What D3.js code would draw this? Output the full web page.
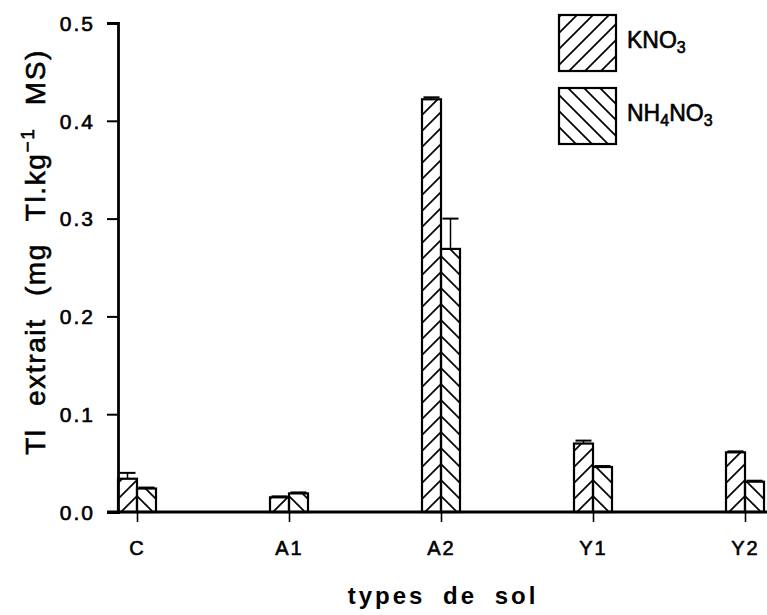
<!DOCTYPE html>
<html><head><meta charset="utf-8">
<script src="https://cdn.jsdelivr.net/npm/d3@7"></script>
<style>body{margin:0;background:#fff}svg{display:block}text{font-family:"Liberation Sans",Arial,sans-serif;fill:#000}</style>
</head><body>
<script>
const categories = ["C","A1","A2","Y1","Y2"];
const series = ["KNO3","NH4NO3"];
const kno3 = [0.034, 0.015, 0.422, 0.070, 0.061];
const nh4no3 = [0.024, 0.019, 0.269, 0.046, 0.031];
const kno3Err = [0.006, 0.001, 0.002, 0.003, 0.001];
const nh4no3Err = [0.001, 0.001, 0.031, 0.001, 0.001];
const yTicks = [0.0, 0.1, 0.2, 0.3, 0.4, 0.5];

const W = 767, H = 615;
const svg = d3.select("body").append("svg").attr("width", W).attr("height", H);
const defs = svg.append("defs");
function hatch(id, d) {
  const p = defs.append("pattern").attr("id", id).attr("patternUnits", "userSpaceOnUse")
    .attr("width", 16).attr("height", 16);
  p.append("path").attr("d", d).attr("stroke", "#000").attr("stroke-width", 1.7).attr("fill", "none");
}
hatch("fwd", "M-4,4 L4,-4 M0,16 L16,0 M12,20 L20,12");
hatch("bwd", "M-4,12 L4,20 M0,0 L16,16 M12,-4 L20,4");
const fills = {KNO3: "url(#fwd)", NH4NO3: "url(#bwd)"};

const x0 = 118, yBase = 512, yTop = 23;
const y = d3.scaleLinear().domain([0, 0.5]).range([yBase, yTop]);
const x = d3.scalePoint().domain(categories).range([137, 745]);
const xs = d3.scaleBand().domain(series).range([-19, 19]);

const data = categories.map((c, i) => ({
  cat: c,
  vals: [
    {s: "KNO3", v: kno3[i], e: kno3Err[i]},
    {s: "NH4NO3", v: nh4no3[i], e: nh4no3Err[i]}
  ]
}));

const g = svg.append("g");
const grp = g.selectAll("g.cat").data(data).join("g").attr("transform", d => `translate(${x(d.cat)},0)`);
grp.selectAll("rect").data(d => d.vals).join("rect")
  .attr("x", d => xs(d.s)).attr("width", xs.bandwidth())
  .attr("y", d => y(d.v)).attr("height", d => yBase - y(d.v))
  .attr("fill", d => fills[d.s]).attr("stroke", "#000").attr("stroke-width", 2.2);
// error bars
grp.selectAll("g.err").data(d => d.vals).join("g").each(function(d) {
  const cx = xs(d.s) + xs.bandwidth() / 2;
  const sel = d3.select(this);
  sel.append("line").attr("x1", cx).attr("x2", cx).attr("y1", y(d.v)).attr("y2", y(d.v + d.e))
    .attr("stroke", "#000").attr("stroke-width", 1.5);
  sel.append("line").attr("x1", cx - 8).attr("x2", cx + 8).attr("y1", y(d.v + d.e)).attr("y2", y(d.v + d.e))
    .attr("stroke", "#000").attr("stroke-width", 2);
});

const thick = sel => sel.style("stroke", "#000").style("stroke-width", "0.6px");

// Y axis
const yAxis = svg.append("g").attr("transform", `translate(${x0},0)`)
  .call(d3.axisLeft(y).tickValues(yTicks).tickFormat(d3.format(".1f")).tickSizeOuter(0).tickSize(11).tickPadding(12));
yAxis.select(".domain").attr("stroke-width", 2.8);
yAxis.selectAll(".tick line").attr("stroke-width", 2);
yAxis.selectAll("text").style("font-size", "21px").style("letter-spacing", "2px").attr("dy", "0.35em").call(thick);

// X axis
const xAxis = svg.append("g").attr("transform", `translate(0,${yBase})`)
  .call(d3.axisBottom(x).tickSize(10).tickSizeOuter(0).tickPadding(19));
xAxis.select(".domain").attr("d", `M${x0 - 11},0H${W + 20}`).attr("stroke-width", 2.8);
xAxis.selectAll(".tick line").attr("stroke-width", 1.6);
xAxis.selectAll("text").style("font-size", "20px").style("letter-spacing", "2px").call(thick);

// axis titles
const yt = svg.append("text").attr("transform", "translate(45,252) rotate(-90)")
  .attr("text-anchor", "middle").style("font-size", "28px").style("letter-spacing", "1.6px").style("word-spacing", "13px").call(thick);
yt.append("tspan").text("Tl extrait (mg Tl.kg");
yt.append("tspan").attr("dy", -11).style("font-size", "19px").text("−1");
yt.append("tspan").attr("dy", 11).text(" MS)");

svg.append("text").attr("x", 443).attr("y", 604).attr("text-anchor", "middle")
  .style("font-size", "24px").style("font-weight", "bold").style("letter-spacing", "3px").style("word-spacing", "8px").text("types de sol");

// legend
const leg = svg.append("g");
const legItems = [
  {s: "KNO3", y: 15, parts: [["KNO", 0], ["3", 1]]},
  {s: "NH4NO3", y: 88, parts: [["NH", 0], ["4", 1], ["NO", 0], ["3", 1]]}
];
legItems.forEach(it => {
  leg.append("rect").attr("x", 559).attr("y", it.y).attr("width", 57).attr("height", 56)
    .attr("fill", fills[it.s]).attr("stroke", "#000").attr("stroke-width", 2.2);
  const t = leg.append("text").attr("x", 627).attr("y", it.y + 33).style("font-size", "23px").call(thick);
  let sub = false;
  it.parts.forEach(([txt, s]) => {
    const ts = t.append("tspan").text(txt);
    if (s && !sub) { ts.attr("dy", 5).style("font-size", "16px"); sub = true; }
    else if (!s && sub) { ts.attr("dy", -5); sub = false; }
    else if (s) ts.style("font-size", "16px");
  });
});
</script>
</body></html>
